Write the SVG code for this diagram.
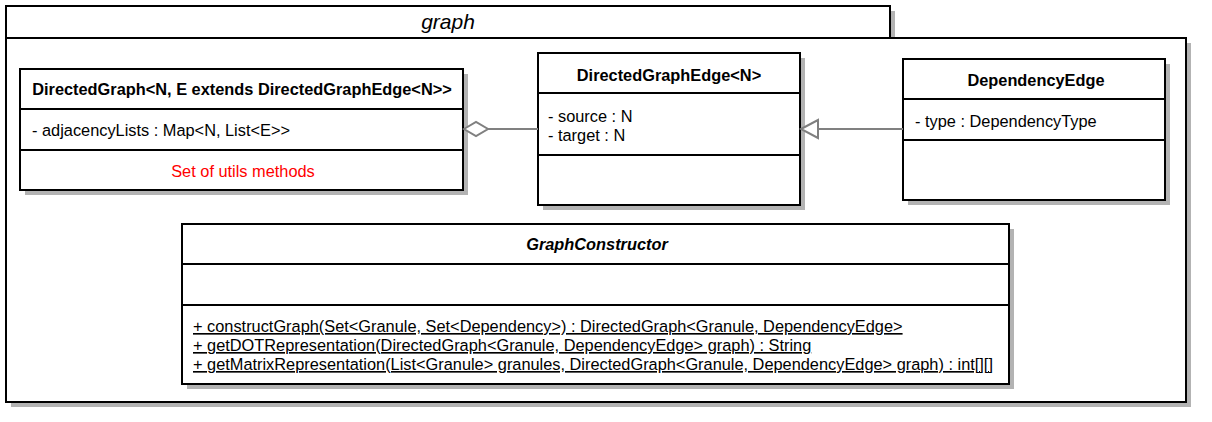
<svg xmlns="http://www.w3.org/2000/svg" width="1212" height="422" viewBox="0 0 1212 422">
<style>
.box{fill:#fff;stroke:#000;stroke-width:2}
.sh{fill:#b3b3b3;stroke:none}
.shl{stroke:#b3b3b3;stroke-width:2}
.div{stroke:#000;stroke-width:2}
.t{font-family:"Liberation Sans",Arial,sans-serif;font-size:16.35px;fill:#000}
.b{font-weight:bold}
.c{text-anchor:middle}
.conn{stroke:#808080;stroke-width:2;fill:none}
</style>
<rect width="1212" height="422" fill="#fff"/>
<g id="package-graph">
<rect class="sh" x="11" y="11" width="884" height="32"/>
<rect class="sh" x="11" y="43" width="1180" height="364"/>
<rect class="box" x="6" y="6" width="884" height="32"/>
<rect class="box" x="6" y="38" width="1180" height="364"/>
<text class="t c" x="448" y="29" style="font-size:21px;font-style:italic">graph</text>
</g>
<g id="DirectedGraph">
<rect class="sh" x="25" y="74" width="443" height="121"/>
<line class="shl" x1="463" y1="114" x2="468" y2="114"/>
<line class="shl" x1="463" y1="155" x2="468" y2="155"/>
<rect class="box" x="20" y="69" width="443" height="121"/>
<line class="div" x1="20" y1="109" x2="463" y2="109"/>
<line class="div" x1="20" y1="150" x2="463" y2="150"/>
<text class="t b c" x="242" y="95">DirectedGraph&lt;N, E extends DirectedGraphEdge&lt;N&gt;&gt;</text>
<text class="t" x="32" y="136">- adjacencyLists : Map&lt;N, List&lt;E&gt;&gt;</text>
<text class="t c" x="243" y="177" style="fill:#ff0000">Set of utils methods</text>
</g>
<g id="DirectedGraphEdge">
<rect class="sh" x="543" y="58" width="262" height="152"/>
<line class="shl" x1="800" y1="98" x2="805" y2="98"/>
<line class="shl" x1="800" y1="160" x2="805" y2="160"/>
<rect class="box" x="538" y="53" width="262" height="152"/>
<line class="div" x1="538" y1="93" x2="800" y2="93"/>
<line class="div" x1="538" y1="155" x2="800" y2="155"/>
<text class="t b c" x="669" y="81">DirectedGraphEdge&lt;N&gt;</text>
<text class="t" x="548" y="122">- source : N</text>
<text class="t" x="548" y="141">- target : N</text>
</g>
<g id="DependencyEdge">
<rect class="sh" x="908" y="64" width="262" height="141"/>
<line class="shl" x1="1165" y1="104" x2="1170" y2="104"/>
<line class="shl" x1="1165" y1="145" x2="1170" y2="145"/>
<rect class="box" x="903" y="59" width="262" height="141"/>
<line class="div" x1="903" y1="99" x2="1165" y2="99"/>
<line class="div" x1="903" y1="140" x2="1165" y2="140"/>
<text class="t b c" x="1036" y="86">DependencyEdge</text>
<text class="t" x="915" y="127">- type : DependencyType</text>
</g>
<g id="GraphConstructor">
<rect class="sh" x="187" y="229" width="827" height="160"/>
<line class="shl" x1="1009" y1="269" x2="1014" y2="269"/>
<line class="shl" x1="1009" y1="310" x2="1014" y2="310"/>
<rect class="box" x="182" y="224" width="827" height="160"/>
<line class="div" x1="182" y1="264" x2="1009" y2="264"/>
<line class="div" x1="182" y1="305" x2="1009" y2="305"/>
<text class="t b c" x="597" y="250" style="font-style:italic">GraphConstructor</text>
<text class="t" x="193" y="332" text-decoration="underline">+ constructGraph(Set&lt;Granule, Set&lt;Dependency&gt;) : DirectedGraph&lt;Granule, DependencyEdge&gt;</text>
<text class="t" x="193" y="351" text-decoration="underline">+ getDOTRepresentation(DirectedGraph&lt;Granule, DependencyEdge&gt; graph) : String</text>
<text class="t" x="193" y="370" text-decoration="underline">+ getMatrixRepresentation(List&lt;Granule&gt; granules, DirectedGraph&lt;Granule, DependencyEdge&gt; graph) : int[][]</text>
</g>
<g id="connectors">
<line class="conn" x1="488" y1="129" x2="538" y2="129"/>
<polygon class="conn" points="464,129 476,122 488,129 476,136" style="fill:#fff"/>
<line class="conn" x1="818" y1="129" x2="903" y2="129"/>
<polygon class="conn" points="801,129 818,120 818,138" style="fill:#fff"/>
</g>
</svg>
